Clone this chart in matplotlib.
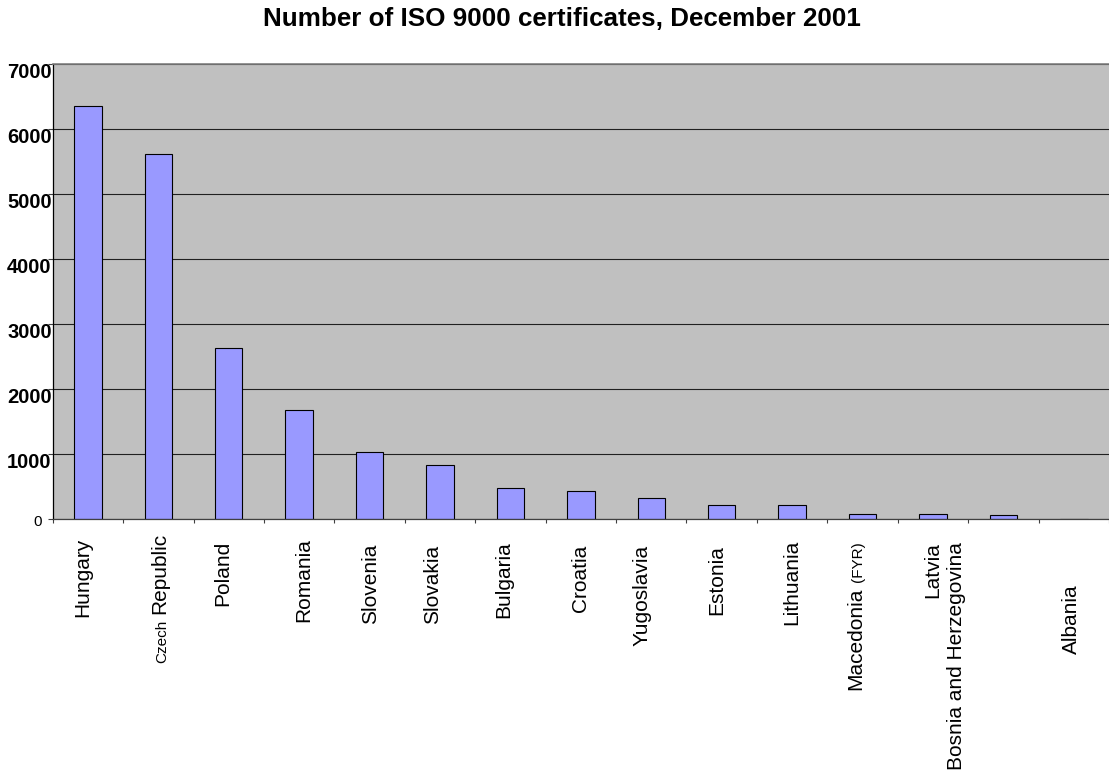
import numpy as np
import matplotlib
matplotlib.use('agg')
import matplotlib.pyplot as plt
from matplotlib.transforms import ScaledTranslation

plt.rcParams['font.family'] = ['Liberation Sans', 'DejaVu Sans']

# ISO 9000 certificates issued per country, December 2001
countries = ['Hungary', 'Czech Republic', 'Poland', 'Romania', 'Slovenia',
             'Slovakia', 'Bulgaria', 'Croatia', 'Yugoslavia', 'Estonia',
             'Lithuania', 'Macedonia (FYR)', 'Latvia',
             'Bosnia and Herzegovina', 'Albania']
certificates = [6360, 5620, 2630, 1680, 1030, 830, 470, 420, 320, 210, 210,
                70, 70, 60, 0]
y_ticks = [0, 1000, 2000, 3000, 4000, 5000, 6000, 7000]

# category label layout: sideways nudge (in bar slots) and drop below axis (px)
label_shift = [-0.08, 0.02, -0.08, 0.07, 0.01, -0.1, -0.1, 0.0, -0.13,
               -0.07, 0.0, -0.06, 0.0, -0.66, -0.04]
label_drop = [19, 14, 22, 19, 25, 26, 23, 26, 26, 26, 21, 23, 23, 23, 66]
# words printed in a smaller size inside a label
small_words = {'Czech', '(FYR)'}

px = 1 / 100.0
fig = plt.figure(figsize=(11.09, 7.71), dpi=100)
ax = fig.add_axes([52.7 / 1109, 252.3 / 771, 1 - 52.7 / 1109, 454.7 / 771])
ax.set_facecolor('#C0C0C0')

x = np.arange(len(countries))
ax.bar(x, certificates, width=0.39, color='#9999FF', edgecolor='black',
       linewidth=0.8, zorder=2)

ax.set_xlim(-0.5, -0.5 + (1109 - 52.7) / 71.1)
ax.set_ylim(0, 7000)

ax.yaxis.grid(True, color='#202020', linewidth=0.8)
ax.set_axisbelow(True)

ax.spines['right'].set_visible(False)
ax.spines['top'].set_color('#808080')
ax.spines['top'].set_linewidth(1.2)
ax.spines['left'].set_color('black')
ax.spines['left'].set_linewidth(0.9)
ax.spines['bottom'].set_color('#404040')
ax.spines['bottom'].set_linewidth(0.9)

# ticks sit on the slot boundaries, labels are drawn by hand below
ax.set_xticks(np.arange(len(countries) + 1) - 0.5)
ax.set_xticklabels([])
ax.tick_params(axis='x', length=2.9, width=0.8, color='#404040')

ax.set_yticks(y_ticks)
ax.set_yticklabels([str(v) for v in y_ticks], fontweight='bold', fontsize=14.5)
ax.tick_params(axis='y', length=3.6, width=0.8, pad=-2.9, color='#404040')
ylabels = ax.get_yticklabels()
ylabels[0].set_fontweight('normal')
ylabels[0].set_fontsize(11)
ylabels[0].set_transform(ylabels[0].get_transform() +
                         ScaledTranslation(-10 * px, -1.5 * px, fig.dpi_scale_trans))
for lab in ylabels[1:]:
    lab.set_transform(lab.get_transform() +
                      ScaledTranslation(0, -6.5 * px, fig.dpi_scale_trans))

for i, name in enumerate(countries):
    # split label into runs of equal font size
    runs = []
    for w in name.split(' '):
        size = 11 if w in small_words else 15
        if runs and runs[-1][1] == size:
            runs[-1][0] += ' ' + w
        else:
            runs.append([w, size])
    trans = ax.get_xaxis_transform() + ScaledTranslation(
        0, -label_drop[i] * px, fig.dpi_scale_trans)
    prev = None
    for text, size in reversed(runs):
        if prev is None:
            prev = ax.text(i + label_shift[i], 0, text, transform=trans,
                           rotation=90, ha='center', va='top', fontsize=size)
        else:
            prev = ax.annotate(text, xy=(1, 0), xycoords=prev, xytext=(0, -4),
                               textcoords='offset points', rotation=90,
                               ha='right', va='top', fontsize=size)

fig.text(562 / 1109, 1 - 19 / 771, 'Number of ISO 9000 certificates, December 2001',
         ha='center', va='center', fontsize=18.7, fontweight='bold')

fig.savefig('out.png', dpi=100)
